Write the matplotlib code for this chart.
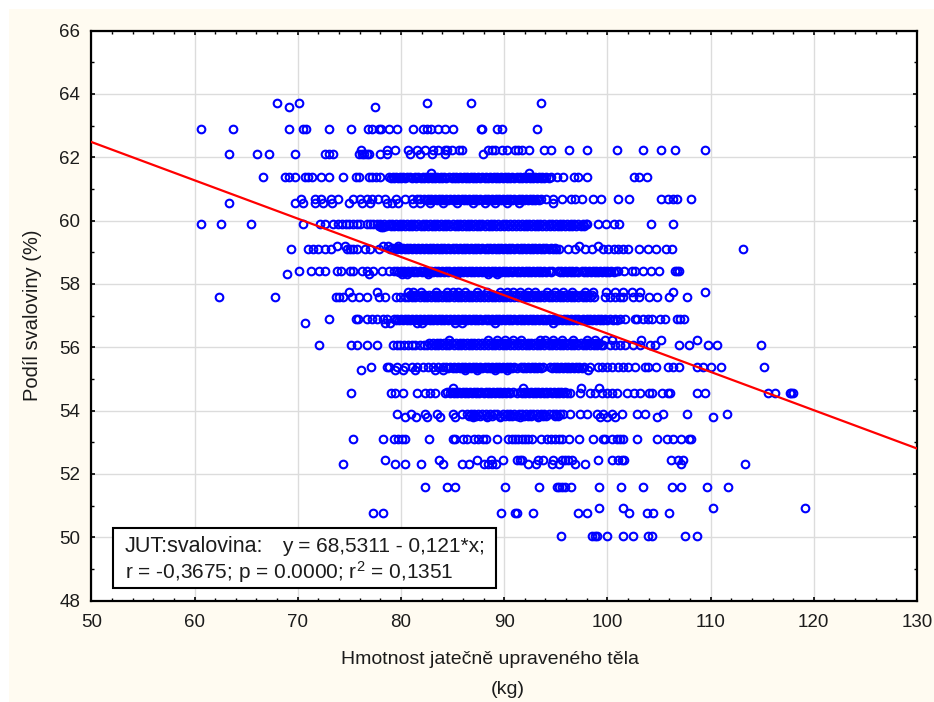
import matplotlib
matplotlib.use("Agg")
import matplotlib.pyplot as plt
from matplotlib.patches import Rectangle
from matplotlib.ticker import MultipleLocator

plt.rcParams['font.family'] = ['Liberation Sans', 'DejaVu Sans']
plt.rcParams['mathtext.default'] = 'regular'

# DATA: x values (kg) per level of y (%) ------------------------------

x_6372 = [67.99, 70.12, 82.52, 86.79, 93.54]
x_6359 = [69.15, 77.49]
x_6290 = [60.63, 63.73, 69.15, 70.54, 70.80, 73.03, 75.16, 76.84, 77.2, 77.87, 78.04, 78.84, 79.62, 81.17,
          82.14, 82.52, 82.91, 83.59, 84.27, 85.04, 87.76, 87.83, 89.28, 89.76, 93.19]
x_6222 = [76.13, 78.68, 79.42, 80.72, 81.52, 82.33, 83.14, 83.62, 84.27, 84.5, 84.92, 85.66, 85.88, 88.47,
          88.8, 89.12, 89.76, 90.31, 91.06, 91.38, 91.77, 92.45, 93.9, 94.54, 96.26, 98.0, 100.9, 103.43,
          105.17, 106.53, 109.47]
x_6209 = [63.34, 66.05, 67.21, 69.73, 72.64, 73.03, 73.45, 75.94, 76.2, 76.42, 76.68, 76.9, 77.97, 78.68,
          80.88, 81.85, 82.98, 84.27, 87.92]
x_6151 = [82.91, 92.41]
x_6138 = [66.63, 68.77, 69.15, 69.77, 70.7, 71.03, 71.41, 72.25, 73.06, 74.39, 75.65, 75.97, 76.9, 77.23,
          77.55, 77.97, 78.8, 79.2, 79.5, 79.9, 80.2, 80.6, 80.9, 81.4, 81.7, 82.1, 82.4, 82.8, 83.1, 83.5,
          83.9, 84.2, 84.7, 85.0, 85.3, 85.7, 86.1, 86.4, 86.8, 87.1, 87.5, 87.9, 88.2, 88.6, 89.0, 89.3,
          89.7, 90.1, 90.4, 90.8, 91.2, 91.5, 91.9, 92.3, 92.6, 93.0, 93.4, 93.7, 94.1, 94.5, 95.16, 95.74,
          96.74, 97.13, 98.0, 102.59, 103.04, 103.85]
x_6138b = [79.0, 79.3, 79.7, 80.0, 80.4, 81.1, 81.5, 81.9, 82.2, 82.6, 83.0, 83.3, 83.7, 84.0, 84.4, 84.9,
           85.2, 85.5, 85.9, 86.3, 86.6, 87.0, 87.3, 87.7, 88.1, 88.4, 88.8, 89.2, 89.5, 89.9, 90.3, 90.6,
           91.0, 91.4, 91.7, 92.1, 92.5, 92.8, 93.2, 93.6, 93.9, 94.3]
x_6069 = [70.32, 71.67, 72.25, 73.22, 73.93, 75.39, 76.03, 76.68, 77.16, 77.81, 78.46, 79.52, 80.39, 81.04,
          81.52, 81.85, 82.2, 82.6, 82.9, 83.3, 83.7, 84.0, 84.4, 84.8, 85.1, 85.5, 85.9, 86.2, 86.6, 87.0,
          87.3, 87.7, 88.1, 88.4, 88.8, 89.2, 89.5, 89.9, 90.3, 90.6, 91.0, 91.4, 91.7, 92.1, 92.5, 92.8,
          93.2, 93.6, 94.03, 94.77, 95.58, 96.45, 96.87, 97.52, 98.65, 99.36, 101.07, 102.1, 105.17, 105.91,
          106.33, 106.79, 108.08]
x_6069b = [82.4, 82.8, 83.1, 83.5, 83.9, 84.2, 84.6, 85.0, 85.3, 85.7, 86.1, 86.4, 86.8, 87.2, 87.5, 87.9,
           88.3, 88.6, 89.0, 89.4, 89.7, 90.1, 90.5, 90.8, 91.2, 91.6, 91.9, 92.3, 92.7, 93.0, 93.4]
x_6056 = [63.34, 69.73, 70.54, 71.67, 72.48, 73.29, 74.93, 76.2, 77.0, 78.62, 79.1, 79.75, 81.2, 81.85, 82.8,
          84.1, 85.4, 87.0, 88.15, 89.1, 90.25, 91.44, 94.7]
x_5988 = [60.63, 62.56, 65.47, 70.54, 72.16, 72.64, 73.38, 73.93, 74.26, 74.64, 75.0, 75.39, 75.71, 76.03,
          76.68, 77.0, 77.26, 77.7, 78.0, 78.4, 78.8, 79.1, 79.5, 79.9, 80.2, 80.6, 81.0, 81.3, 81.7, 82.1,
          82.4, 82.8, 83.2, 83.5, 83.9, 84.3, 84.6, 85.0, 85.4, 85.7, 86.1, 86.5, 86.8, 87.2, 87.6, 87.9,
          88.3, 88.7, 89.0, 89.4, 89.9, 90.2, 90.6, 91.0, 91.3, 91.7, 92.1, 92.4, 92.8, 93.2, 93.5, 93.9,
          94.3, 94.6, 95.0, 95.4, 95.7, 96.1, 96.5, 96.8, 97.2, 97.6, 97.9, 98.06, 99.07, 99.88, 100.6,
          101.17, 104.2, 106.33]
x_5988b = [77.9, 78.2, 78.6, 79.0, 79.3, 79.7, 80.0, 80.4, 80.8, 81.1, 81.5, 81.9, 82.2, 82.6, 83.0, 83.3,
           83.7, 84.1, 84.4, 84.8, 85.2, 85.5, 85.9, 86.3, 86.6, 87.0, 87.4, 87.7, 88.1, 88.5, 88.8, 89.2,
           89.6, 90.0, 90.4, 90.8, 91.1, 91.5, 91.9, 92.2, 92.6, 93.0, 93.3, 93.7, 94.1, 94.4, 94.8, 95.2,
           95.5, 95.9, 96.3, 96.6, 97.0, 97.4, 97.7]
x_5978 = [78.04, 78.3]
x_5920 = [73.84, 74.58, 78.29, 78.78, 79.75, 97.26, 99.13]
x_5910 = [69.35, 71.03, 71.51, 72.0, 72.64, 73.22, 74.74, 75.07, 75.39, 75.71, 76.52, 77.0, 77.87, 78.9,
          79.3, 79.6, 80.0, 80.4, 80.7, 81.1, 81.5, 81.8, 82.2, 82.6, 82.9, 83.3, 83.7, 84.0, 84.4, 84.8,
          85.1, 85.5, 85.9, 86.2, 86.6, 87.0, 87.3, 87.7, 88.1, 88.4, 88.8, 89.2, 89.5, 89.9, 90.3, 90.6,
          91.0, 91.4, 91.7, 92.1, 92.5, 92.8, 93.2, 93.6, 93.9, 94.3, 94.7, 95.0, 95.32, 96.22, 96.87, 97.84,
          98.5, 99.6, 100.1, 100.6, 101.07, 101.55, 102.03, 103.07, 103.97, 104.69, 105.69, 106.24, 113.15]
x_5910b = [79.1, 79.5, 79.8, 80.2, 80.6, 80.9, 81.3, 81.7, 82.0, 82.4, 82.8, 83.1, 83.5, 83.9, 84.2, 84.6,
           85.0, 85.3, 85.7, 86.1, 86.4, 86.8, 87.2, 87.5, 87.9, 88.3, 88.6, 89.0, 89.4, 89.7, 90.1, 90.5,
           90.8, 91.2, 91.6, 91.9, 92.3, 92.7, 93.0, 93.4, 93.8, 94.1, 94.5, 94.9]
x_5842 = [70.12, 71.28, 72.09, 72.64, 73.77, 74.16, 75.07, 75.39, 76.2, 76.68, 77.26, 78.13, 78.88, 79.33,
          79.6, 80.0, 80.3, 80.7, 81.1, 81.4, 81.8, 82.2, 82.5, 82.9, 83.3, 83.6, 84.0, 84.4, 84.7, 85.1,
          85.5, 85.8, 86.2, 86.6, 86.9, 87.3, 87.7, 88.0, 88.4, 88.8, 89.1, 89.5, 89.9, 90.2, 90.6, 91.0,
          91.3, 91.7, 92.1, 92.4, 92.8, 93.2, 93.5, 93.9, 94.3, 94.6, 95.2, 95.5, 95.9, 96.3, 96.6, 97.0,
          97.5, 97.8, 98.2, 98.6, 98.9, 99.3, 99.7, 100.0, 100.4, 100.8, 101.07, 101.6, 102.36, 102.7, 103.43,
          104.23, 105.01, 106.56, 106.72, 106.9]
x_5842b = [79.8, 80.2, 80.5, 80.9, 81.3, 81.6, 82.0, 82.4, 82.7, 83.1, 83.5, 83.8, 84.2, 84.6, 84.9, 85.3,
           85.7, 86.0, 86.4, 86.8, 87.1, 87.5, 87.9, 88.2, 88.6, 89.0, 89.3, 89.7, 90.1, 90.4, 90.8, 91.2,
           91.5, 91.9, 92.3, 92.6, 93.0, 93.4, 93.7, 94.1, 94.5, 95.4, 95.7, 96.1, 96.5, 96.8, 97.2, 97.7,
           98.0, 98.4, 98.8, 99.1, 99.5, 99.9, 100.2, 100.6]
x_5830 = [68.96, 76.94, 80.07, 80.56, 82.65, 85.4, 88.47, 89.35]
x_5773 = [74.97, 77.65, 80.72, 81.2, 81.94, 83.36, 84.43, 85.08, 85.56, 86.2, 87.34, 88.3, 89.6, 90.25, 90.9,
          91.54, 92.35, 93.0, 94.12, 94.93, 95.74, 96.55, 97.84, 98.65, 99.87, 100.75, 101.55, 102.36, 103.17,
          106.33, 109.47]
x_5760 = [62.4, 67.8, 73.67, 74.0, 74.42, 75.29, 75.94, 76.74, 77.87, 78.46, 79.49, 79.91, 80.39, 80.7, 81.1,
          81.4, 81.8, 82.2, 82.5, 82.9, 83.3, 83.6, 84.0, 84.4, 84.7, 85.1, 85.5, 85.8, 86.2, 86.6, 86.9,
          87.3, 87.7, 88.0, 88.4, 88.8, 89.1, 89.5, 89.9, 90.2, 90.6, 91.0, 91.3, 91.7, 92.1, 92.4, 92.8,
          93.2, 93.5, 93.9, 94.3, 94.6, 95.0, 95.4, 95.7, 96.1, 96.5, 96.8, 97.2, 97.6, 97.9, 98.3, 98.7,
          99.77, 100.26, 100.75, 101.23, 101.55, 102.52, 103.07, 104.04, 104.85, 105.98, 107.69]
x_5760b = [80.9, 81.2, 81.6, 82.0, 82.3, 82.7, 83.1, 83.4, 83.8, 84.2, 84.5, 84.9, 85.3, 85.6, 86.0, 86.4,
           86.7, 87.1, 87.5, 87.8, 88.2, 88.6, 88.9, 89.3, 89.7, 90.0, 90.4, 90.8, 91.1, 91.5, 91.9, 92.2,
           92.6, 93.0, 93.3, 93.7, 94.1, 94.4, 94.8, 95.2, 95.5, 95.9, 96.3, 96.6, 97.0, 97.4, 97.7, 98.1,
           98.5]
x_5690 = [73.03, 75.61, 75.87, 76.68, 77.16, 77.65, 78.29, 78.62, 79.3, 79.6, 80.0, 80.4, 80.7, 81.1, 81.5,
          81.8, 82.2, 82.6, 82.9, 83.3, 83.7, 84.0, 84.4, 84.8, 85.1, 85.5, 85.9, 86.2, 86.6, 87.0, 87.3,
          87.7, 88.1, 88.4, 88.8, 89.2, 89.5, 89.9, 90.3, 90.6, 91.0, 91.4, 91.7, 92.1, 92.5, 92.8, 93.2,
          93.6, 93.9, 94.3, 94.7, 95.0, 95.4, 95.8, 96.1, 96.5, 96.9, 97.2, 97.6, 98.0, 98.3, 98.7, 99.1,
          99.4, 99.8, 100.3, 100.7, 101.2, 101.72, 102.7, 102.9, 103.49, 103.97, 104.3, 105.1, 105.59, 106.72,
          107.04, 107.43]
x_5690b = [79.5, 79.8, 80.2, 80.6, 80.9, 81.3, 81.7, 82.0, 82.4, 82.8, 83.1, 83.5, 83.9, 84.2, 84.6, 85.0,
           85.3, 85.7, 86.1, 86.4, 86.8, 87.2, 87.5, 87.9, 88.3, 88.6, 89.0, 89.4, 89.7, 90.1, 90.5, 90.8,
           91.2, 91.6, 91.9, 92.3, 92.7, 93.0, 93.4, 93.8, 94.1, 94.5, 94.9, 95.2, 95.6, 96.0, 96.3, 96.7,
           97.1, 97.4, 97.8, 98.2, 98.5, 98.9, 99.3, 99.6, 100.0, 100.5, 100.9]
x_5677 = [70.7, 78.46, 78.94, 81.52, 82.0, 85.24, 85.88, 89.12, 94.7]
x_5622 = [84.66, 88.47, 89.28, 90.09, 90.9, 91.6, 93.48, 93.96, 94.77, 95.58, 96.71, 98.0, 98.81, 99.78,
          100.42, 103.27, 105.2, 108.69]
x_5608 = [72.06, 75.13, 75.77, 76.68, 77.68, 79.26, 79.6, 79.9, 80.3, 80.7, 81.1, 81.4, 81.8, 82.2, 82.5,
          82.9, 83.3, 83.6, 84.0, 84.4, 84.7, 85.1, 85.5, 85.8, 86.2, 86.6, 86.9, 87.3, 87.7, 88.0, 88.4,
          88.8, 89.1, 89.5, 89.9, 90.2, 90.6, 91.0, 91.3, 91.7, 92.1, 92.4, 92.8, 93.2, 93.5, 93.9, 94.3,
          94.6, 95.0, 95.4, 95.7, 96.1, 96.5, 96.8, 97.2, 97.6, 97.9, 98.3, 98.7, 99.0, 99.4, 99.6, 100.26,
          100.75, 101.23, 101.72, 102.52, 103.17, 104.14, 104.62, 106.95, 107.92, 109.79, 110.6, 114.89]
x_5608b = [82.7, 83.1, 83.5, 83.8, 84.2, 84.6, 84.9, 85.3, 85.7, 86.0, 86.4, 86.8, 87.1, 87.5, 87.9, 88.2,
           88.6, 89.0, 89.3, 89.7, 90.1, 90.4, 90.8, 91.2, 91.5, 91.9, 92.3, 92.6, 93.0, 93.4, 93.7, 94.1,
           94.5, 94.8, 95.2, 95.6, 95.9, 96.3, 96.7, 97.0, 97.4, 97.8, 98.1, 98.5, 98.9, 99.2]
x_5538 = [77.1, 78.62, 78.88, 79.59, 80.39, 81.04, 81.52, 82.17, 82.65, 83.14, 83.62, 84.1, 84.4, 84.8, 85.1,
          85.5, 85.9, 86.2, 86.6, 87.0, 87.3, 87.7, 88.1, 88.4, 88.8, 89.2, 89.5, 89.9, 90.3, 90.6, 91.0,
          91.6, 91.9, 92.3, 92.7, 93.0, 93.4, 93.8, 94.4, 94.8, 95.1, 95.5, 95.9, 96.2, 96.6, 97.0, 97.3,
          97.7, 98.32, 99.13, 99.45, 99.94, 100.42, 101.07, 101.55, 102.03, 102.7, 103.65, 103.97, 104.69,
          105.85, 106.4, 106.98, 108.66, 109.3, 110.05, 111.0, 115.2]
x_5538b = [84.6, 85.0, 85.3, 85.7, 86.1, 86.4, 86.8, 87.2, 87.5, 87.9, 88.3, 88.6, 89.0, 89.4, 89.7, 90.1,
           90.5, 90.8, 91.2, 91.8, 92.1, 92.5, 92.9, 93.2, 93.6, 94.6, 95.0, 95.3, 95.7, 96.1, 96.4, 96.8,
           97.2, 97.5]
x_5528 = [76.13, 79.42, 80.23, 81.36, 83.3, 84.1, 86.2, 87.34, 89.12, 90.25, 98.16]
x_5470 = [85.08, 91.8, 97.42, 99.19]
x_5456 = [75.16, 79.04, 79.42, 80.23, 81.52, 82.33, 82.8, 83.3, 84.27, 84.75, 85.1, 85.4, 85.8, 86.2, 86.5,
          86.9, 87.3, 87.6, 88.0, 88.4, 88.7, 89.1, 89.5, 89.8, 90.2, 90.6, 91.2, 91.7, 92.0, 92.4, 92.8,
          93.1, 93.5, 93.9, 94.2, 94.6, 95.0, 95.3, 95.7, 96.1, 96.4, 97.35, 98.32, 98.81, 99.45, 99.94,
          100.42, 100.9, 101.88, 102.59, 103.17, 104.04, 104.3, 105.33, 105.85, 106.08, 108.69, 109.47,
          115.6, 116.25, 117.7, 117.8, 118.0]
x_5456b = [84.5, 84.9, 85.2, 85.6, 86.0, 86.3, 86.7, 87.1, 87.4, 87.8, 88.2, 88.5, 88.9, 89.3, 89.6, 90.0,
           90.4, 90.9, 91.5, 91.9, 92.2, 92.6, 93.0, 93.3, 93.7, 94.1, 94.4, 94.8, 95.2, 95.5, 95.9]
x_5388 = [79.59, 80.98, 82.33, 83.46, 85.01, 85.89, 86.4, 86.8, 87.1, 87.5, 87.9, 88.2, 88.6, 89.0, 89.3,
          89.92, 90.3, 90.6, 91.0, 91.4, 91.7, 92.1, 92.5, 92.8, 93.2, 93.6, 93.9, 94.3, 94.7, 95.0, 95.4,
          95.74, 96.38, 97.35, 98.0, 98.97, 99.61, 100.42, 101.39, 102.84, 103.65, 105.36, 107.69, 111.57]
x_5388b = [86.6, 87.0, 87.3, 87.7, 88.4, 88.8, 89.6, 90.1, 90.5, 90.8, 91.2, 91.9, 92.3, 92.6, 93.4, 93.8,
           94.1, 94.9, 95.2]
x_5378 = [80.39, 81.43, 82.49, 83.79, 85.24, 87.0, 88.3, 89.6, 91.54, 93.31, 99.29, 99.94, 100.74, 104.78,
          110.2]
x_5311 = [75.32, 78.26, 79.33, 79.75, 80.07, 80.43, 82.72, 85.08, 85.24, 86.05, 86.37, 87.08, 87.5, 87.92,
          88.24, 89.34, 90.41, 90.73, 91.05, 91.38, 91.7, 92.02, 92.35, 92.73, 93.54, 94.12, 94.5, 94.93,
          95.35, 95.6, 96.29, 97.29, 98.58, 99.61, 99.77, 100.42, 100.9, 101.23, 101.55, 102.84, 104.78,
          105.75, 106.33, 107.11, 107.91, 108.11]
x_5243 = [78.46, 83.69, 87.4, 88.7, 89.92, 91.21, 91.54, 91.76, 93.31, 93.8, 94.77, 95.58, 95.9, 96.22, 96.54,
          99.13, 100.42, 101.07, 101.39, 101.62, 106.14, 106.88, 107.36]
x_5230 = [74.35, 79.43, 80.39, 81.94, 84.11, 85.95, 86.6, 88.08, 88.47, 88.79, 89.18, 92.35, 93.09, 94.61,
          95.35, 96.87, 97.84, 107.14, 113.34]
x_5160 = [82.33, 84.43, 85.24, 90.09, 93.38, 95.09, 95.35, 95.61, 95.87, 96.48, 99.16, 101.29, 103.42, 106.3,
          107.14, 109.63, 111.73]
x_5091 = [99.16, 101.49, 110.21, 119.16]
x_5077 = [77.29, 78.26, 89.7, 91.05, 91.2, 92.76, 97.2, 98.03, 102.1, 103.81, 104.46, 105.98]
x_5005 = [95.48, 98.48, 98.8, 98.97, 99.94, 101.49, 102.49, 103.97, 104.3, 107.49, 108.69]

rows = [(63.72, x_6372), (63.59, x_6359), (62.90, x_6290), (62.22, x_6222), (62.09, x_6209), (61.51, x_6151),
        (61.38, x_6138), (61.34, x_6138b), (60.69, x_6069), (60.65, x_6069b), (60.56, x_6056), (59.88, x_5988),
        (59.84, x_5988b), (59.78, x_5978), (59.20, x_5920), (59.10, x_5910), (59.14, x_5910b), (58.42, x_5842),
        (58.38, x_5842b), (58.30, x_5830), (57.73, x_5773), (57.60, x_5760), (57.64, x_5760b), (56.90, x_5690),
        (56.86, x_5690b), (56.77, x_5677), (56.22, x_5622), (56.08, x_5608), (56.12, x_5608b), (55.38, x_5538),
        (55.34, x_5538b), (55.28, x_5528), (54.70, x_5470), (54.56, x_5456), (54.60, x_5456b), (53.88, x_5388),
        (53.84, x_5388b), (53.78, x_5378), (53.11, x_5311), (52.43, x_5243), (52.30, x_5230), (51.60, x_5160),
        (50.91, x_5091), (50.77, x_5077), (50.05, x_5005)]

fit_x = [50, 130]
fit_y = [62.48, 52.80]

BG = '#FFFBF1'
TXT = '#1c1c1c'
W, H = 934, 702

fig = plt.figure(figsize=(W / 100, H / 100), dpi=100, facecolor='white')
fig.patches.append(Rectangle((9 / W, 0), 1, 1 - 9 / H, transform=fig.transFigure, color=BG, lw=0, zorder=-5))

ax = fig.add_axes([91.3 / W, 1 - 600.5 / H, 825.7 / W, 570 / H])
ax.set_xlim(50, 130)
ax.set_ylim(48, 66)

ax.xaxis.set_major_locator(MultipleLocator(10))
ax.xaxis.set_minor_locator(MultipleLocator(2))
ax.yaxis.set_major_locator(MultipleLocator(2))
ax.yaxis.set_minor_locator(MultipleLocator(1))
ax.grid(True, which='major', color='#dcdcdc', lw=1.0, zorder=0)
ax.set_axisbelow(True)
ax.tick_params(which='major', direction='in', length=3, width=1.2, top=True, right=True, labelsize=13.5,
               labelcolor=TXT)
ax.tick_params(axis='x', which='major', pad=10)
ax.tick_params(axis='y', which='major', pad=8)
ax.tick_params(which='minor', direction='in', length=2, width=1.0, top=True, right=True)
for s in ax.spines.values():
    s.set_linewidth(1.6)

for y, xs in rows:
    ax.plot(xs, [y] * len(xs), 'o', ms=5.5, mfc='none', mec='#0000FF', mew=1.5, zorder=3)

ax.plot(fit_x, fit_y, color='#FF0000', lw=1.6, zorder=4)

# ramecek s rovnici
ax.add_patch(Rectangle((113.3 / W, 1 - 588.3 / H), 382.4 / W, 60.6 / H, transform=fig.transFigure,
                       fc='white', ec='black', lw=1.5, zorder=5))
fig.text(125 / W, 1 - 552.5 / H, 'JUT:svalovina:', fontsize=15.5, color=TXT, zorder=6)
fig.text(282 / W, 1 - 552.5 / H, 'y = 68,5311 - 0,121*x;', fontsize=15, color=TXT, zorder=6)
fig.text(125 / W, 1 - 579 / H, 'r = -0,3675; p = 0.0000; r$^{2}$ = 0,1351', fontsize=15, color=TXT, zorder=6)

fig.text(490 / W, 1 - 660 / H, 'Hmotnost jatečně upraveného těla', fontsize=14, color=TXT, ha='center', va='center')
fig.text(508 / W, 1 - 690 / H, '(kg)', fontsize=14, color=TXT, ha='center', va='center')
fig.text(33 / W, 1 - 315 / H, 'Podíl svaloviny (%)', fontsize=14.5, color=TXT, rotation=90, ha='center', va='center')

fig.savefig('out.png', dpi=100, facecolor=fig.get_facecolor())
